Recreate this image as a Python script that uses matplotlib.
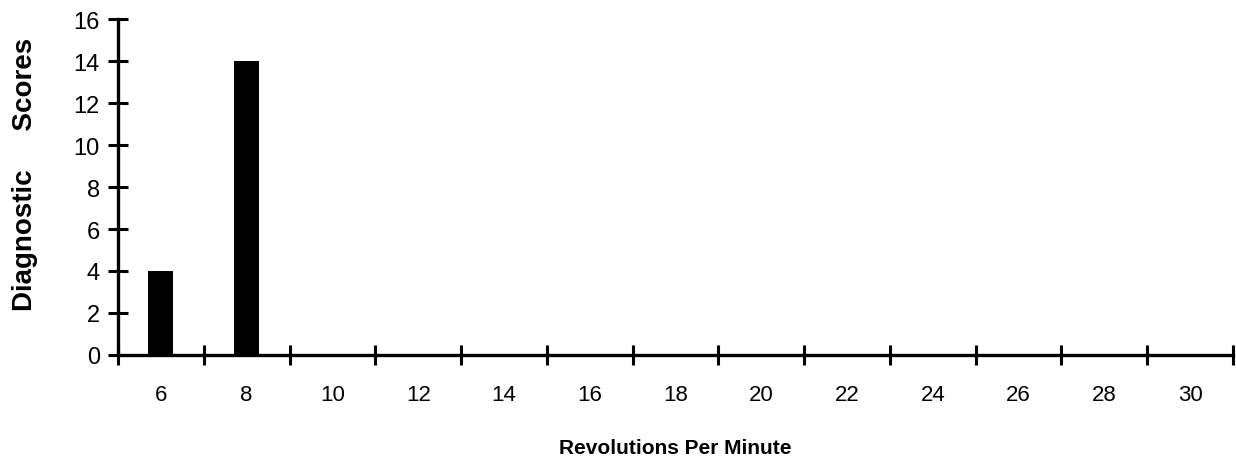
import matplotlib.pyplot as plt
import numpy as np

plt.rcParams['font.family'] = ['Liberation Sans', 'DejaVu Sans']

# Data
rpm = [6, 8, 10, 12, 14, 16, 18, 20, 22, 24, 26, 28, 30]
scores = [4, 14, 0, 0, 0, 0, 0, 0, 0, 0, 0, 0, 0]
y_ticks = [0, 2, 4, 6, 8, 10, 12, 14, 16]

fig = plt.figure(figsize=(12.36, 4.64), dpi=100)
ax = fig.add_axes([0.0955, 0.2328, 0.902, 0.724])

pos = np.arange(len(rpm))
ax.bar(pos, scores, width=0.29, color='black', zorder=1)

ax.set_xlim(-0.5, len(rpm) - 0.5)
ax.set_ylim(0, 16)

# labels at the category centres, tick marks between categories
ax.set_xticks(pos)
ax.set_xticklabels([str(r) for r in rpm], fontsize=16)
ax.set_xticks(np.arange(-0.5, len(rpm), 1.0), minor=True)
ax.tick_params(axis='x', which='major', length=0, pad=21)
ax.tick_params(axis='x', which='minor', direction='inout', length=15, width=2.2)

ax.set_yticks(y_ticks)
ax.set_yticklabels([str(v) for v in y_ticks], fontsize=17)
ax.tick_params(axis='y', direction='inout', length=14, width=2.2, pad=6)

for side in ['top', 'right']:
    ax.spines[side].set_visible(False)
for side in ['left', 'bottom']:
    ax.spines[side].set_linewidth(2.4)

ax.set_xlabel('Revolutions Per Minute', fontsize=15, fontweight='bold', labelpad=24)
ax.set_ylabel('Diagnostic     Scores', fontsize=20, fontweight='bold')
ax.yaxis.set_label_coords(-0.072, 0.54)

fig.savefig('out.png', dpi=100)
